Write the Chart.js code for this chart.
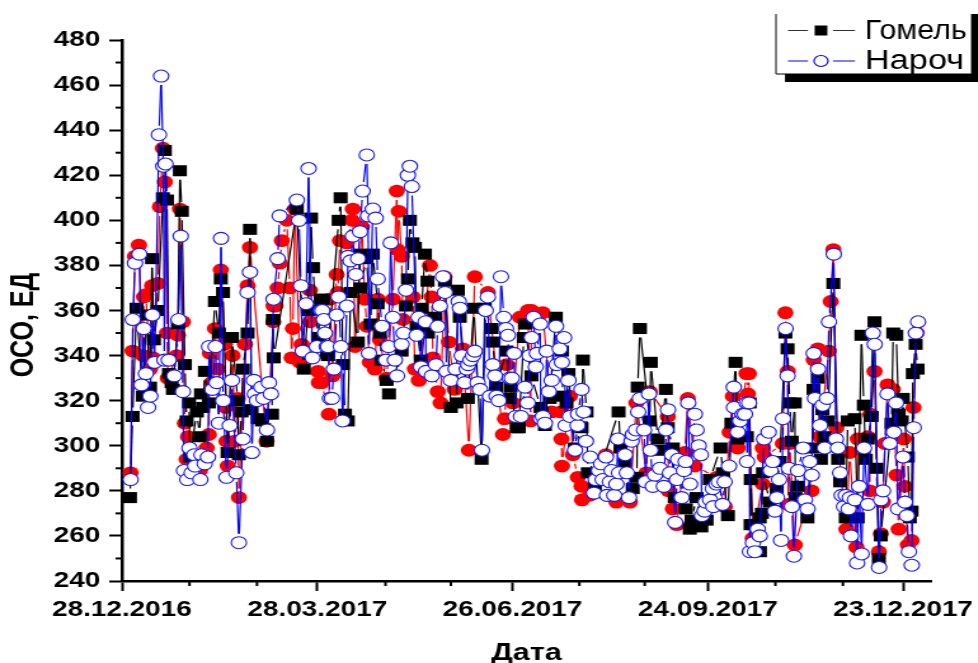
<!DOCTYPE html>
<html>
<head>
<meta charset="utf-8">
<title>ОСО</title>
<script src="https://cdn.jsdelivr.net/npm/chart.js@4"></script>
<style>
  html, body { margin: 0; padding: 0; background: #fff; overflow: hidden; }
  #wrap { width: 978px; height: 663px; overflow: hidden; }
  /* the original picture is stretched sideways, so circles turn into ellipses */
  #chart { display: block; transform-origin: 0 0; transform: scaleX(1.27); }
</style>
</head>
<body>
<div id="wrap"><canvas id="chart" width="770" height="663"></canvas></div>
<script>
// [day since 28.12.2016, value]
var gomel = [[3.7,277],[4.9,313],[6.7,361],[9.6,322],[11.3,358],[12.9,326],[13.8,383],[14.7,347],[16.5,360],[18.8,410],
[19.7,431],[20.7,409],[21.6,332],[22.8,328],[23.4,325],[25.7,354],[26.6,422],[27.5,404],[28.9,336],[29.7,311],
[30.8,319],[31.2,295],[34.4,315],[35.7,304],[36.3,323],[37.2,317],[38.1,333],[39.9,319],[42.7,364],[44.5,350],
[45.4,374],[46.4,368],[48.5,297],[50.5,348],[53.2,320],[53.7,296],[54.9,315],[55.5,334],[57.7,350],[58.8,396],
[59.5,316],[62.3,312],[64.3,311],[66.6,302],[68.9,314],[69.3,356],[69.7,339],[80.3,405],[83.5,334],[85.4,360],
[86.8,401],[87.7,379],[90,348],[91.3,365],[92.3,365],[94.1,341],[94.6,340],[99.5,400],[100.4,410],[101.4,336],
[102.4,314],[103.7,311],[105,368],[108.3,346],[109.2,385],[109.4,370],[112.3,383],[114.2,354],[115.2,385],[117.4,363],
[118.4,350],[119.2,338],[121.5,329],[122.6,323],[128.4,342],[130.4,362],[131.3,374],[132.2,400],[133.4,390],[134.5,388],
[135.3,353],[137.2,338],[137.6,361],[139.1,385],[140.3,373],[140.5,350],[143.7,357],[148.3,373],[151,317],[153.6,319],
[154.2,369],[155.1,357],[158.8,321],[161.6,361],[165.1,294],[166.6,361],[169.7,352],[170.3,346],[171.7,326],[176.6,342],
[178.1,321],[178.4,326],[181.2,308],[182.2,308],[184.5,348],[185,354],[188,331],[192.2,317],[194.2,309],[196.4,321],
[199.2,357],[202,342],[202.4,322],[204.1,319],[205,332],[207.9,299],[211,308],[211.6,338],[213.3,315],[213.9,288],
[217.1,282],[228,315],[228.9,299],[230.9,293],[234.5,281],[236.4,286],[236.8,326],[237.8,352],[242.3,311],[242.8,337],
[246,303],[246.9,298],[249.7,325],[250.6,308],[252.9,299],[253.8,277],[258.9,272],[260.7,263],[261.5,267],[263.8,277],
[266,264],[268.4,267],[269.9,285],[274.8,299],[275.9,288],[278.2,269],[279.8,310],[281.7,337],[282.7,303],[286.9,304],
[288.2,319],[288.6,265],[288.7,285],[289.5,265],[292.8,268],[292.9,253],[293.8,270],[294.3,288],[297.4,275],[300.6,281],
[302,293],[304.6,350],[305.6,343],[306.6,319],[307.5,302],[308.9,319],[309.2,277],[310.3,282],[314.7,268],[317.2,299],
[317.5,325],[319.5,330],[320.9,294],[321.6,316],[322.5,304],[324,311],[326.6,372],[328.8,294],[329.7,284],[332.3,268],
[333.2,311],[336.4,312],[337.8,268],[339.5,349],[340.6,318],[341.5,294],[342.4,303],[344.2,313],[345.5,355],[346.4,290],
[347.5,250],[348.4,260],[353.3,310],[354.1,350],[355.5,349],[356.6,314],[358,311],[358.5,321],[360.8,295],[361.7,268],
[362.5,271],[363.1,332],[364.4,345],[365.3,334]];

var naroch = [[4,285],[5,356],[6,381],[8,385],[9,327],[10,352],[11,332],[12,317],[13,322],[14,358],
[15,337],[17,438],[18,464],[19,424],[19.5,338],[20,425],[21.5,338],[24,331],[26,356],[27,393],
[28,324],[28.5,289],[30,285],[31,299],[32,288],[33.2,296],[33.6,291],[36,285],[36.5,296],[38,292],
[39.5,295],[40,344],[41.5,325],[43,344],[43.5,328],[44.5,310],[45.5,392],[46.5,320],[48,286],[49.5,309],
[50.5,329],[52.5,288],[53.7,257],[55.5,303],[57.7,368],[58.8,377],[59.7,297],[60.6,329],[61,323],[62,320],
[64,326],[65,321],[66.6,307],[67.5,328],[68.4,323],[69.6,365],[71.5,383],[72.4,402],[80.3,409],[81.3,400],
[82.2,371],[83,342],[84.5,363],[85.7,423],[87.5,339],[89.5,344],[91.4,360],[92,360],[92.7,356],[93.2,350],
[94,344],[94.6,344],[95.5,321],[96.4,321],[97.3,334],[98.6,358],[99.5,366],[100.5,344],[101.3,311],[103.3,362],
[103.8,384],[105,382],[106,393],[107.4,376],[108.4,383],[109.3,395],[110.5,413],[112.4,429],[113,402],[113.4,341],
[115.2,405],[116.5,401],[117.4,374],[119.4,353],[121.2,338],[122.4,344],[123.4,390],[124.4,357],[125.3,338],[126.3,331],
[128.4,345],[129.3,350],[130.4,369],[131.3,420],[132.2,424],[133.1,415],[135.3,349],[136.2,357],[137.3,335],[139.4,355],
[139.6,333],[142.3,331],[144.2,336],[145,353],[146,362],[147.4,375],[148.3,368],[149,333],[151,329],[153.2,334],
[154.6,364],[155.2,361],[156,340],[157.3,328],[158.3,334],[159,336],[160,338],[161.2,340],[162,342],[163.3,328],
[164.4,325],[165.3,298],[167,360],[168,366],[169,322],[170.2,336],[171.3,331],[172,322],[173,320],[174,375],
[175.3,357],[176.3,352],[177.2,349],[178,330],[179,330],[180,341],[180.8,313],[183.2,313],[185,326],[186.3,319],
[187.2,340],[188.1,348],[189,357],[190,335],[190.5,341],[192,354],[192.3,312],[193.3,313],[194.2,310],[195,342],
[196,324],[197.3,329],[199.3,353],[199.6,336],[201,343],[202,337],[203,348],[203.7,309],[205,329],[205.7,313],
[208,298],[209.2,309],[209.4,314],[211,325],[212,315],[213,302],[215,295],[216.7,279],[217.5,285],[219,289],
[220,292],[220.7,285],[222.2,295],[222.7,278],[224,284],[224.8,289],[226,278],[227,283],[227.7,303],[228.2,288],
[231,296],[231.8,288],[232.8,277],[234,302],[234.6,305],[236,307],[237,315],[237.8,321],[239.7,307],[240.4,284],
[242,323],[242.7,298],[243.7,282],[244.7,287],[247,290],[248.8,282],[249.8,307],[250.7,316],[251.6,288],[252.5,296],
[254,266],[254.8,285],[255.3,294],[257,277],[258,289],[258.8,293],[260,319],[260.8,283],[263,314],[263.8,307],
[264.8,300],[265.8,296],[266.3,269],[267.5,271],[268,275],[270,276],[271.3,281],[271.5,273],[273,283],[274,284],
[275.8,274],[276.7,284],[278.7,291],[280.9,326],[281,317],[282.7,306],[283.8,311],[285,314],[286,314],[286.8,319],
[287,293],[287.9,319],[288.3,253],[289.7,257],[290.6,253],[291.9,263],[292.8,260],[294.8,303],[296.9,306],[297.8,289],
[298.8,293],[299.8,271],[300.7,277],[301.7,285],[302.6,258],[303.5,312],[304.7,352],[305.6,331],[306.2,290],[307.6,273],
[308.5,251],[310.4,289],[312.7,299],[313.6,276],[314.8,272],[315.8,293],[316.7,287],[317.6,341],[318.2,321],[319.6,334],
[320.5,309],[321.7,318],[322.6,299],[323.7,321],[324.6,355],[326.8,385],[327.8,303],[328.7,299],[329.7,288],[330.4,278],
[331.5,273],[332.3,278],[333.6,272],[334.2,277],[334.7,260],[336.5,276],[337.5,248],[338.4,282],[339.6,252],[340.7,299],
[342.5,274],[344.7,350],[345.6,345],[347.6,246],[348.5,276],[349.4,280],[351.5,323],[352.5,301],[354.4,306],[355.4,319],
[356.3,272],[358.6,295],[359.5,275],[360.4,269],[361.3,253],[362.6,247],[363.5,308],[364.5,350],[365.5,355]];

var redSeries = [[4,288],[4.9,342],[6,384],[7.8,389],[9.6,340],[10.1,366],[11,367],[12.9,334],[13.8,371],[14.2,339],
[16.5,372],[17.4,406],[18.8,432],[19.7,417],[20.7,350],[21.1,330],[25.2,340],[25.7,349],[26.6,405],[28,355],
[28.9,310],[29.7,294],[30.3,304],[35.8,289],[38.9,299],[39.9,305],[40.4,341],[41.2,328],[42.7,352],[44,334],
[45.4,378],[47.3,345],[47.6,317],[48,302],[48.6,291],[49.6,319],[50.8,340],[51.9,302],[53.2,321],[53.7,277],
[56.5,345],[57.7,371],[58.8,388],[66.4,302],[69.5,355],[69.6,362],[70.5,362],[71.5,370],[72.5,381],[73.4,391],
[75.7,400],[77.1,370],[77.9,339],[78.5,352],[79.4,405],[81.7,337],[82.5,345],[86.3,369],[86.4,355],[90,333],
[90.4,328],[91.7,328],[95,314],[95.5,365],[96.7,331],[98.6,376],[99.1,368],[100.1,391],[103.3,390],[105.6,400],
[106,405],[107,344],[110.2,397],[111.5,365],[112.5,353],[113.8,337],[116.1,334],[117.5,365],[118.4,347],[121.5,330],
[124.4,365],[126.2,413],[126.5,387],[127.1,404],[128.4,384],[129,356],[133.6,366],[134.5,334],[136.3,329],[141.4,380],
[142.2,366],[142.8,339],[145,324],[146.3,319],[148.1,375],[150.1,346],[152.8,325],[156.5,343],[159.3,298],[162,375],
[168,368],[174.9,305],[175.8,312],[176.7,336],[179.5,319],[182.7,357],[186.4,360],[187.6,311],[188.1,360],[193.2,359],
[197.2,315],[201.5,315],[201.8,303],[202,291],[205.6,322],[207,296],[209.3,286],[211,282],[211.2,276],[214.8,278],
[222.2,296],[227,275],[233.2,275],[236.2,319],[240.8,288],[242.3,324],[250.6,313],[250.9,280],[252.9,272],[254.7,265],
[258.4,297],[259.8,321],[263,291],[273,286],[276.8,273],[279,306],[280.5,322],[282.7,299],[286.7,332],[287.4,323],
[287.8,332],[289.6,259],[294.1,283],[294.2,299],[295.1,295],[303.4,301],[304.6,359],[305.7,333],[305.9,274],[306.6,301],
[308.9,256],[316.6,280],[317.6,338],[319.5,343],[320.4,304],[324.5,342],[325.4,364],[326.6,387],[328,308],[332.6,263],
[334.1,297],[337.2,255],[337.8,303],[342.4,304],[343.3,280],[343.6,314],[345.5,333],[347.5,253],[348.4,261],[349.4,275],
[350.2,301],[351.5,327],[353.9,325],[355.6,287],[356.6,263],[358.9,303],[359.4,282],[360.8,256],[362.5,258],[363.4,317],
[364.9,350]];

var tickDays = [0, 89.7, 179.3, 269, 358.6];
var tickLabels = ["28.12.2016", "28.03.2017", "26.06.2017", "24.09.2017", "23.12.2017"];
var minorDays = [31, 62, 121, 151, 210, 240, 300, 331];
var minorValues = [250, 270, 290, 310, 330, 350, 370, 390, 410, 430, 450, 470];

var stretch = 1.27;
var markerGap = 9; // lines stop this far from a marker, as the Origin plot does

function toXY(pairs) {
  return pairs.map(function (p) { return { x: p[0], y: p[1] }; });
}

var gappedLines = {
  id: "gappedLines",
  beforeDatasetDraw: function (chart, args) {
    var pts = args.meta.data;
    var ctx = chart.ctx;
    ctx.save();
    ctx.strokeStyle = args.meta.controller.getDataset().lineColor;
    ctx.lineWidth = 1.2;
    for (var i = 1; i < pts.length; i++) {
      var dx = pts[i].x - pts[i - 1].x;
      var dy = pts[i].y - pts[i - 1].y;
      var d = Math.sqrt(dx * stretch * dx * stretch + dy * dy);
      if (d <= markerGap * 2) continue;
      var t = markerGap / d;
      ctx.beginPath();
      ctx.moveTo(pts[i - 1].x + dx * t, pts[i - 1].y + dy * t);
      ctx.lineTo(pts[i].x - dx * t, pts[i].y - dy * t);
      ctx.stroke();
    }
    ctx.restore();
  }
};

var extras = {
  id: "extras",
  afterDraw: function (chart) {
    var ctx = chart.ctx;
    var xs = chart.scales.x, ys = chart.scales.y;
    ctx.save();
    ctx.strokeStyle = "#000";
    ctx.fillStyle = "#000";

    // minor ticks
    ctx.lineWidth = 2;
    minorDays.forEach(function (d) {
      var px = xs.getPixelForValue(d);
      ctx.beginPath(); ctx.moveTo(px, xs.top); ctx.lineTo(px, xs.top + 5); ctx.stroke();
    });
    minorValues.forEach(function (v) {
      var py = ys.getPixelForValue(v);
      ctx.beginPath(); ctx.moveTo(ys.right, py); ctx.lineTo(ys.right - 5, py); ctx.stroke();
    });

    // y title sits lower than the axis centre
    ctx.save();
    ctx.translate(19, 325);
    ctx.rotate(-Math.PI / 2);
    ctx.font = "bold 25px 'Liberation Sans'";
    ctx.textAlign = "center";
    ctx.textBaseline = "middle";
    ctx.fillText("ОСО, ЕД", 0, 0);
    ctx.restore();

    // legend box with its shadow
    var boxL = 776 / stretch, boxR = 971 / stretch, shadowL = 785 / stretch, shadowR = 978 / stretch;
    ctx.fillRect(shadowL, 74, shadowR - shadowL, 8);
    ctx.fillRect(boxR, 14, shadowR - boxR, 68);
    ctx.lineWidth = 1;
    ctx.beginPath();
    ctx.moveTo(boxL, 14); ctx.lineTo(boxL, 74); ctx.lineTo(boxR, 74);
    ctx.stroke();

    var a1 = 788 / stretch, a2 = 808 / stretch, b1 = 833 / stretch, b2 = 855 / stretch, mid = 821 / stretch;
    ctx.strokeStyle = "#333";
    ctx.beginPath(); ctx.moveTo(a1, 30.5); ctx.lineTo(a2, 30.5); ctx.moveTo(b1, 30.5); ctx.lineTo(b2, 30.5); ctx.stroke();
    ctx.fillRect(mid - 5, 25.5, 10, 10);
    ctx.strokeStyle = "#0000ff";
    ctx.beginPath(); ctx.moveTo(a1, 61); ctx.lineTo(a2, 61); ctx.moveTo(b1, 61); ctx.lineTo(b2, 61); ctx.stroke();
    ctx.lineWidth = 1.2;
    ctx.beginPath(); ctx.arc(mid, 61, 5.5, 0, Math.PI * 2); ctx.stroke();

    ctx.fillStyle = "#000";
    ctx.font = "27px 'Liberation Sans'";
    ctx.textBaseline = "alphabetic";
    ctx.textAlign = "left";
    ctx.fillText("Гомель", 865 / stretch, 39, 80);
    ctx.fillText("Нароч", 865 / stretch, 68.5, 80);
    ctx.restore();
  }
};

function fixY(scale) {
  scale.width = 96;
  scale.paddingTop = 0; scale.paddingBottom = 0;
}
function fixX(scale) {
  scale.height = 82;
  scale.paddingLeft = 0; scale.paddingRight = 0;
}

new Chart("chart", {
  type: "scatter",
  data: {
    datasets: [
      { label: "Нароч", data: toXY(naroch), order: 0, lineColor: "#0000ff", showLine: false,
        pointStyle: "circle", pointRadius: 6, pointBackgroundColor: "#fff", pointBorderColor: "#1a1aff", pointBorderWidth: 1.1 },
      { label: "Гомель", data: toXY(gomel), order: 1, lineColor: "#000", showLine: false,
        pointStyle: "rect", pointRadius: 7.8, pointBackgroundColor: "#000", pointBorderColor: "#000", pointBorderWidth: 0 },
      { label: "Третий ряд", data: toXY(redSeries), order: 2, lineColor: "#ff0000", showLine: false,
        pointStyle: "circle", pointRadius: 6.4, pointBackgroundColor: "#ff0000", pointBorderColor: "#ff0000", pointBorderWidth: 0 }
    ]
  },
  plugins: [gappedLines, extras],
  options: {
    responsive: false,
    animation: false,
    clip: false,
    devicePixelRatio: 1,
    layout: { padding: { top: 40, right: 37, left: 0, bottom: 0 } },
    plugins: { legend: { display: false }, tooltip: { enabled: false } },
    scales: {
      x: {
        type: "linear",
        min: 0,
        max: 371.4,
        afterFit: fixX,
        afterBuildTicks: function (scale) {
          scale.ticks = tickDays.map(function (d) { return { value: d }; });
        },
        border: { color: "#000", width: 2.5 },
        grid: { drawOnChartArea: false, drawTicks: true, tickLength: 10, tickWidth: 2, tickColor: "#000" },
        ticks: {
          color: "#000",
          font: { family: "'Liberation Sans'", size: 22, weight: "bold" },
          padding: 6,
          autoSkip: false,
          maxRotation: 0,
          minRotation: 0,
          callback: function (value, index) { return tickLabels[index]; }
        },
        title: {
          display: true,
          text: "Дата",
          color: "#000",
          font: { family: "'Liberation Sans'", size: 24, weight: "bold" },
          padding: { top: 0, bottom: -5 }
        }
      },
      y: {
        type: "linear",
        min: 240,
        max: 480,
        afterFit: fixY,
        border: { color: "#000", width: 2.5 },
        grid: { drawOnChartArea: false, drawTicks: true, tickLength: 10, tickWidth: 2, tickColor: "#000" },
        ticks: {
          stepSize: 20,
          color: "#000",
          font: { family: "'Liberation Sans'", size: 22, weight: "bold" },
          padding: 7
        }
      }
    }
  }
});
</script>
</body>
</html>
